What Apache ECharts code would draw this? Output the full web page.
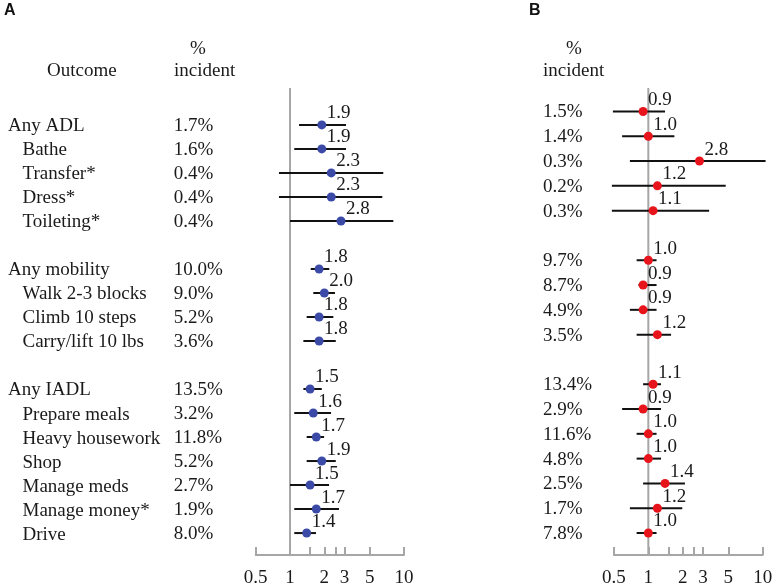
<!DOCTYPE html>
<html><head><meta charset="utf-8">
<script src="https://cdn.jsdelivr.net/npm/echarts@6/dist/echarts.min.js"></script>
<style>html,body{margin:0;padding:0;background:#fff}#c{width:776px;height:588px}</style>
</head><body><div id="c"></div>
<script>
// ---- data ----
const outcomes = ['Any ADL','Bathe','Transfer*','Dress*','Toileting*','Any mobility','Walk 2-3 blocks','Climb 10 steps','Carry/lift 10 lbs','Any IADL','Prepare meals','Heavy housework','Shop','Manage meds','Manage money*','Drive'];
const topLevel = [true,false,false,false,false,true,false,false,false,true,false,false,false,false,false,false];
// Panel A
const pctA = [1.7,1.6,0.4,0.4,0.4,10.0,9.0,5.2,3.6,13.5,3.2,11.8,5.2,2.7,1.9,8.0];
const hrA  = [1.9,1.9,2.3,2.3,2.8,1.8,2.0,1.8,1.8,1.5,1.6,1.7,1.9,1.5,1.7,1.4];
const loA  = [1.20,1.09,0.80,0.80,1.00,1.52,1.60,1.40,1.31,1.31,1.09,1.40,1.40,1.00,1.09,1.09];
const hiA  = [3.10,3.10,6.58,6.45,8.06,2.21,2.48,2.40,2.52,1.90,2.29,1.99,2.52,2.20,2.69,1.69];
// Panel B
const pctB = [1.5,1.4,0.3,0.2,0.3,9.7,8.7,4.9,3.5,13.4,2.9,11.6,4.8,2.5,1.7,7.8];
const hrB  = [0.9,1.0,2.8,1.2,1.1,1.0,0.9,0.9,1.2,1.1,0.9,1.0,1.0,1.4,1.2,1.0];
const loB  = [0.49,0.59,0.69,0.48,0.48,0.79,0.82,0.69,0.79,0.90,0.59,0.79,0.79,0.90,0.69,0.79];
const hiB  = [1.40,1.69,10.6,4.75,3.40,1.18,1.18,1.18,1.58,1.29,1.29,1.18,1.29,2.09,1.98,1.18];
// axis ticks
const tickValues = [0.5,1,1.5,2,2.5,3,5,10];
const tickLabels = [0.5,1,2,3,5,10];
const refValue = 1;

// ---- derived ----
const rowIdx = [];
(function(){ let r = -1; outcomes.forEach((o,i)=>{ if (topLevel[i] && i>0) r++; r++; rowIdx.push(r); }); })();

const SERIF = 'Liberation Serif';
const FS = 19;
const txt = '#1a1a1a';
const axisGray = '#a6a6a6';

const yRangeA = [-1.538, 17.914];
const yRangeB = [-0.946, 17.887];

function nameFmt(v){
  const i = rowIdx.indexOf(Math.round(v));
  if (i < 0) return '';
  return topLevel[i] ? '{t|' + outcomes[i] + '}' : '{s|' + outcomes[i] + '}';
}
function pctFmt(arr){
  return v => { const i = rowIdx.indexOf(Math.round(v)); return i < 0 ? '' : '{p|' + arr[i].toFixed(1) + '%}'; };
}

function xAxisDef(grid){
  return {
    gridIndex: grid, type: 'log', logBase: 10, min: 0.5, max: 10,
    axisLine: { show: true, onZero: false, lineStyle: { color: axisGray, width: 2 } },
    axisTick: { show: true, inside: true, length: 8, customValues: tickValues, lineStyle: { color: axisGray, width: 2 } },
    minorTick: { show: false },
    axisLabel: { customValues: tickLabels, formatter: v => String(+(+v).toPrecision(3)), fontFamily: SERIF, fontSize: FS, color: txt, margin: 14 },
    splitLine: { show: false }
  };
}
function yAxisDef(grid, range, fmt, margin, rich){
  return {
    gridIndex: grid, type: 'value', inverse: true, min: range[0], max: range[1], position: 'left',
    axisLine: { show: false }, axisTick: { show: false }, splitLine: { show: false },
    axisLabel: { customValues: rowIdx.slice(), formatter: fmt, align: 'left', margin: margin,
      fontFamily: SERIF, fontSize: FS, color: txt, rich: rich }
  };
}
const richNames = {
  t: { fontFamily: SERIF, fontSize: FS, color: txt, padding: [3,0,0,0] },
  s: { fontFamily: SERIF, fontSize: FS, color: txt, padding: [3,0,0,14.5] }
};
const richPct = {
  p: { fontFamily: SERIF, fontSize: FS, color: txt, padding: [2,0,0,0] }
};

function ciSeries(xi, lo, hi){
  return {
    type: 'custom', xAxisIndex: xi, yAxisIndex: xi === 0 ? 0 : 2, z: 2, silent: true, clip: false,
    data: lo.map((l,i)=>[l, hi[i], rowIdx[i]]),
    encode: { x: [0,1], y: 2 },
    renderItem: (params, api) => {
      const p1 = api.coord([api.value(0), api.value(2)]);
      const p2 = api.coord([api.value(1), api.value(2)]);
      return { type: 'line', shape: { x1: p1[0], y1: p1[1], x2: p2[0], y2: p2[1] }, style: { stroke: '#111', lineWidth: 2 } };
    }
  };
}
function ptSeries(xi, hr, color){
  return {
    type: 'scatter', xAxisIndex: xi, yAxisIndex: xi === 0 ? 0 : 2, z: 3, silent: true,
    symbol: 'circle', symbolSize: 9, itemStyle: { color: color, opacity: 1 },
    data: hr.map((h,i)=>[h, rowIdx[i]]),
    label: { show: true, formatter: p => hr[p.dataIndex].toFixed(1), position: [9.5, -7], align: 'left', verticalAlign: 'middle',
      fontFamily: SERIF, fontSize: FS, color: txt }
  };
}
function refSeries(xi, range){
  return {
    type: 'line', xAxisIndex: xi, yAxisIndex: xi === 0 ? 0 : 2, z: 1, silent: true, showSymbol: false, symbol: 'none',
    data: [[refValue, range[0]], [refValue, range[1]]],
    lineStyle: { color: axisGray, width: 2 }
  };
}
function head(text, left, top){
  return { text: text, left: left, top: top, padding: 0,
    textStyle: { fontFamily: SERIF, fontSize: FS, fontWeight: 'normal', color: txt } };
}

const chart = echarts.init(document.getElementById('c'), null, { renderer: 'canvas' });
chart.setOption({
  animation: false,
  backgroundColor: '#fff',
  title: [
    { text: 'A', left: 4, top: 3, padding: 0, textStyle: { fontFamily: 'Liberation Sans', fontSize: 16, fontWeight: 'bold', color: '#111' } },
    { text: 'B', left: 529, top: 3, padding: 0, textStyle: { fontFamily: 'Liberation Sans', fontSize: 16, fontWeight: 'bold', color: '#111' } },
    head('Outcome', 47, 62),
    head('%', 190, 40),
    head('incident', 174, 62),
    head('%', 566, 40),
    head('incident', 543, 62)
  ],
  grid: [
    { left: 255.7, right: 372, top: 88, bottom: 32 },
    { left: 613.9, right: 13.3, top: 88, bottom: 32 }
  ],
  xAxis: [ xAxisDef(0), xAxisDef(1) ],
  yAxis: [
    yAxisDef(0, yRangeA, nameFmt, 247.7, richNames),
    yAxisDef(0, yRangeA, pctFmt(pctA), 82, richPct),
    yAxisDef(1, yRangeB, pctFmt(pctB), 71, richPct)
  ],
  series: [
    refSeries(0, yRangeA), ciSeries(0, loA, hiA), ptSeries(0, hrA, '#3b4aa6'),
    refSeries(1, yRangeB), ciSeries(1, loB, hiB), ptSeries(1, hrB, '#e8141c')
  ]
});
</script></body></html>
